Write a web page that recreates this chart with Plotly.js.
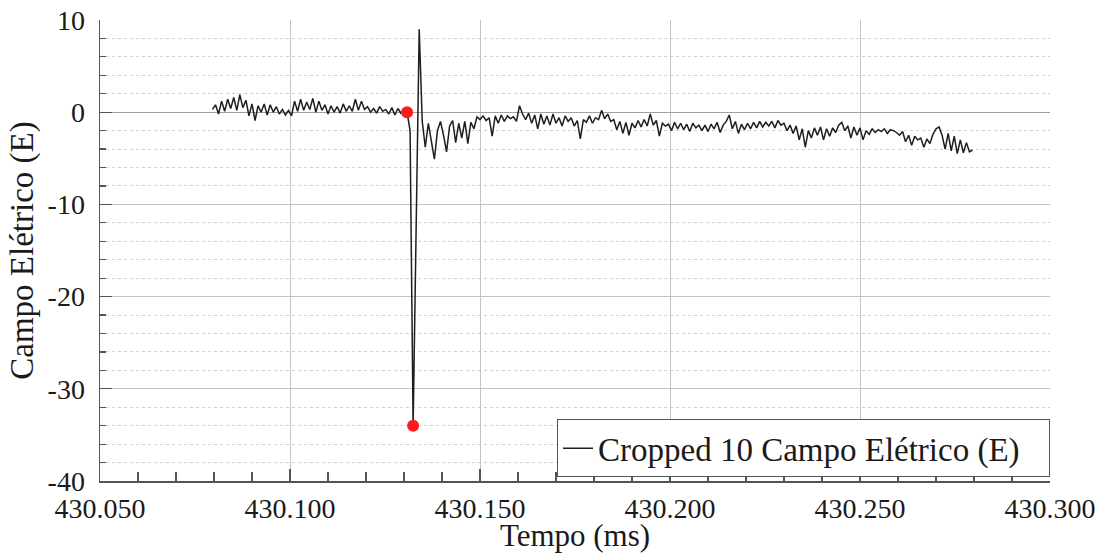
<!DOCTYPE html>
<html>
<head>
<meta charset="utf-8">
<script src="https://cdn.plot.ly/plotly-3.0.1.min.js"></script>
<style>html,body{margin:0;padding:0;background:#fff;}#chart{width:1105px;height:553px;}</style>
</head>
<body>
<div id="chart"></div>
<script>
// Sample grid of the recorded trace (ms)
const sampleStart = 430.0796;
const sampleStep = 0.0008;
// Campo Elétrico (E) values, one per sample
const fieldValues = [
 0.3, 0.8, -0.2, 1.2, 0.1, 1.4, 0.4, 1.6, 0.2, 1.9,
 0.5, 1.3, -0.4, 0.9, -0.9, 0.7, 0.0, 0.9, -0.3, 0.8,
 0.0, 0.6, -0.2, 0.3, -0.3, 0.2, -0.4, 1.2, 0.1, 1.4,
 0.2, 1.1, 0.3, 1.5, 0.0, 1.2, 0.2, 0.8, -0.2, 0.7,
 0.0, 0.6, -0.1, 0.9, 0.1, 0.7, 0.1, 1.4, 0.2, 1.2,
 0.3, 0.6, 0.0, 0.4, -0.1, 0.6, 0.1, 0.3, -0.2, 0.5,
 -0.3, 0.4, -0.1, 0.3, 0.0, -2.0, -34.0, -12.5, 9.0, -1.0,
 -3.8, -1.2, -3.0, -5.1, -2.0, -1.0, -2.5, -4.3, -1.5, -0.9,
 -3.3, -1.2, -2.8, -1.0, -3.4, -1.1, -1.8, -0.5, -0.8, -0.4,
 -0.9, -0.6, -2.6, -0.4, -1.2, -0.3, -1.0, -0.4, -0.7, -0.5,
 -1.0, 0.7, -0.2, -0.8, -0.1, -1.2, -0.3, -1.8, -0.2, -1.3,
 -0.4, -1.4, -0.2, -1.2, -0.6, -1.5, -0.4, -1.0, -0.6, -1.5,
 -0.9, -2.9, -0.8, -1.1, -0.4, -1.2, -0.6, -0.8, 0.2, -0.7,
 -0.2, -1.0, -0.8, -1.9, -1.0, -2.3, -1.1, -2.5, -1.2, -1.7,
 -0.9, -1.6, -0.8, -1.5, -0.2, -1.4, -0.9, -2.6, -1.2, -1.5,
 -1.3, -2.0, -1.1, -1.8, -1.2, -1.9, -1.3, -2.1, -1.2, -1.7,
 -1.4, -2.0, -1.4, -2.1, -1.3, -1.8, -1.1, -2.2, -1.4, -1.0,
 -0.3, -1.8, -1.0, -2.3, -1.3, -1.9, -1.2, -1.8, -1.1, -1.7,
 -1.0, -1.6, -1.1, -1.5, -1.0, -1.7, -0.9, -1.4, -1.2, -2.0,
 -1.4, -2.3, -1.5, -3.0, -1.8, -3.8, -2.0, -2.8, -1.7, -2.5,
 -1.6, -3.0, -1.8, -2.6, -1.7, -2.2, -1.4, -1.1, -2.0, -1.5,
 -2.8, -1.6, -2.5, -1.7, -3.0, -2.0, -2.4, -1.8, -2.2, -1.9,
 -2.1, -1.8, -2.3, -1.9, -2.0, -2.2, -2.5, -2.1, -3.2, -2.5,
 -3.6, -2.6, -3.0, -2.8, -3.8, -2.9, -3.4, -2.4, -1.8, -1.6,
 -2.5, -4.0, -2.3, -4.2, -2.6, -4.5, -3.0, -4.4, -3.3, -4.3,
 -4.1
];
// Highlighted points (red markers)
const markerTimes = [430.1308, 430.1324];
const markerValues = [0, -34];

const xTickVals = [430.05, 430.10, 430.15, 430.20, 430.25, 430.30];
const xTickLabels = ["430.050", "430.100", "430.150", "430.200", "430.250", "430.300"];
const yTickVals = [10, 0, -10, -20, -30, -40];
const yTickLabels = ["10", "0", "-10", "-20", "-30", "-40"];
const seriesName = "Cropped 10 Campo Elétrico (E)";

const times = fieldValues.map((_, i) => sampleStart + i * sampleStep);

const serif = "Liberation Serif, Times New Roman, serif";

const traces = [
  {
    x: times, y: fieldValues, type: "scatter", mode: "lines",
    name: seriesName,
    line: {color: "#1e1e1e", width: 1.5}
  },
  {
    x: markerTimes, y: markerValues, type: "scatter", mode: "markers",
    showlegend: false,
    marker: {color: "#ff1a1a", size: 12}
  }
];

const layout = {
  width: 1105, height: 553,
  margin: {l: 100, r: 55, t: 20, b: 72},
  paper_bgcolor: "#ffffff", plot_bgcolor: "#ffffff",
  font: {family: serif, size: 28, color: "#1a1a1a"},
  showlegend: true,
  legend: {
    orientation: "h",
    x: 1, xanchor: "right", y: 0.008, yanchor: "bottom",
    bgcolor: "#ffffff", bordercolor: "#555555", borderwidth: 1,
    entrywidth: 446, entrywidthmode: "pixels",
    font: {family: serif, size: 33, color: "#1a1a1a"}
  },
  xaxis: {
    range: [430.05, 430.30],
    tickvals: xTickVals, ticktext: xTickLabels,
    ticks: "inside", ticklen: 12, tickcolor: "#555555", tickwidth: 1.2,
    showline: true, linecolor: "#555555", linewidth: 1.5,
    showgrid: true, gridcolor: "#c4c4c4", gridwidth: 1,
    zeroline: false,
    tickfont: {family: serif, size: 28},
    ticklabelstandoff: 2,
    minor: {dtick: 0.01, ticks: "inside", ticklen: 9, tickcolor: "#555555", showgrid: false},
    title: {text: "Tempo (ms)", font: {family: serif, size: 31}, standoff: 0}
  },
  yaxis: {
    range: [-40, 10],
    tickvals: yTickVals, ticktext: yTickLabels,
    ticks: "inside", ticklen: 12, tickcolor: "#555555", tickwidth: 1.2,
    showline: true, linecolor: "#555555", linewidth: 1.5,
    showgrid: true, gridcolor: "#c4c4c4", gridwidth: 1,
    zeroline: true, zerolinecolor: "#a0a0a0", zerolinewidth: 1.3,
    tickfont: {family: serif, size: 28},
    ticklabelstandoff: 8,
    minor: {dtick: 2, ticks: "inside", ticklen: 6, tickcolor: "#555555",
            showgrid: true, gridcolor: "#d0d0d0", griddash: "dot", gridwidth: 1},
    title: {text: "Campo Elétrico (E)", font: {family: serif, size: 33}, standoff: 4}
  }
};

Plotly.newPlot("chart", traces, layout, {displayModeBar: false, staticPlot: true});
</script>
</body>
</html>
